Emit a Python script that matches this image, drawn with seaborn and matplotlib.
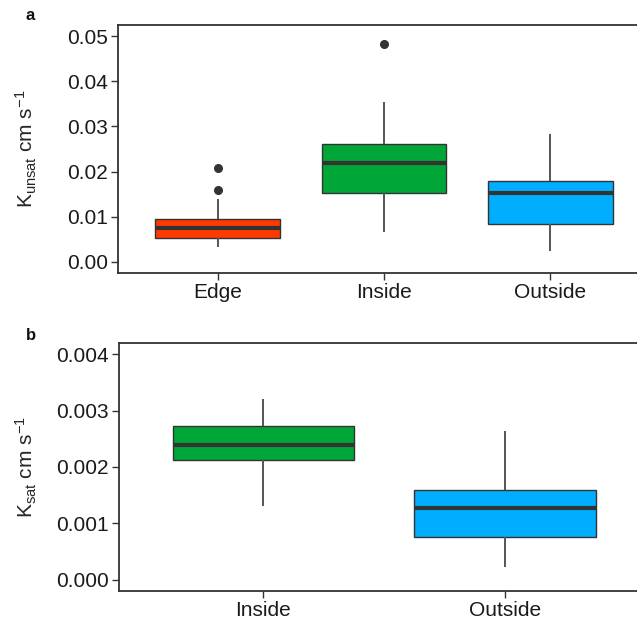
import matplotlib
matplotlib.use("Agg")
import matplotlib.pyplot as plt
import seaborn as sns
import pandas as pd

# ---- data ----
sites_a = ["Edge", "Inside", "Outside"]
edge_unsat = [0.0033, 0.0042, 0.0048, 0.0053, 0.0062, 0.0070, 0.0075,
              0.0082, 0.0090, 0.0095, 0.0140, 0.0160, 0.0208]
inside_unsat = [0.0065, 0.0120, 0.0153, 0.0185, 0.0218, 0.0240, 0.0262,
                0.0354, 0.0483]
outside_unsat = [0.0023, 0.0083, 0.0152, 0.0178, 0.0283]

sites_b = ["Inside", "Outside"]
inside_sat = [0.00130, 0.00213, 0.00239, 0.00273, 0.00320]
outside_sat = [0.00022, 0.00075, 0.00128, 0.00159, 0.00264]

yticks_a = [0.00, 0.01, 0.02, 0.03, 0.04, 0.05]
yticklabels_a = ["0.00", "0.01", "0.02", "0.03", "0.04", "0.05"]
yticks_b = [0.000, 0.001, 0.002, 0.003, 0.004]
yticklabels_b = ["0.000", "0.001", "0.002", "0.003", "0.004"]

colors = {"Edge": "#FF3A00", "Inside": "#00A637", "Outside": "#00AEFF"}

df_a = pd.DataFrame({
    "site": ["Edge"] * len(edge_unsat) + ["Inside"] * len(inside_unsat)
            + ["Outside"] * len(outside_unsat),
    "value": edge_unsat + inside_unsat + outside_unsat,
})
df_b = pd.DataFrame({
    "site": ["Inside"] * len(inside_sat) + ["Outside"] * len(outside_sat),
    "value": inside_sat + outside_sat,
})

sns.set_theme(style="white")
plt.rcParams["font.family"] = ["Liberation Sans", "DejaVu Sans"]
plt.rcParams["mathtext.fontset"] = "custom"
plt.rcParams["mathtext.rm"] = "Liberation Sans"
plt.rcParams["mathtext.it"] = "Liberation Sans:italic"
plt.rcParams["mathtext.bf"] = "Liberation Sans:bold"

W, H = 637, 621
fig = plt.figure(figsize=(W / 100, H / 100), dpi=100)

def px_axes(left, top, right, bottom):
    return fig.add_axes([left / W, 1 - bottom / H, (right - left) / W, (bottom - top) / H])

ax_a = px_axes(118, 25, 650, 273)
ax_b = px_axes(118.5, 343, 650, 591)

box_kw = dict(
    width=0.75, dodge=False, saturation=1, linecolor="#333333", linewidth=1.0,
    showcaps=False, whis=1.5, legend=False,
    medianprops=dict(color="#333333", linewidth=3),
    whiskerprops=dict(color="#555555", linewidth=1.4),
    boxprops=dict(edgecolor="#333333", linewidth=1.0),
    flierprops=dict(marker="o", markerfacecolor="#333333", markeredgecolor="#333333",
                    markersize=5.5),
)

sns.boxplot(data=df_a, x="site", y="value", hue="site", order=sites_a,
            hue_order=sites_a, palette=colors, ax=ax_a, **box_kw)
sns.boxplot(data=df_b, x="site", y="value", hue="site", order=sites_b,
            hue_order=sites_b, palette=colors, ax=ax_b, **box_kw)

ax_a.set_xlim(-0.6, 2.6)
ax_a.set_ylim(-0.0025, 0.0525)
ax_a.set_yticks(yticks_a)
ax_a.set_yticklabels(yticklabels_a)
ax_b.set_xlim(-0.6, 1.6)
ax_b.set_ylim(-0.0002, 0.0042)
ax_b.set_yticks(yticks_b)
ax_b.set_yticklabels(yticklabels_b)

ax_a.set_ylabel(r"K$_{\mathrm{unsat}}$ cm s$^{\mathrm{-1}}$", fontsize=15)
ax_b.set_ylabel(r"K$_{\mathrm{sat}}$ cm s$^{\mathrm{-1}}$", fontsize=15)
ax_a.yaxis.set_label_coords((39 - 118) / 532, 0.5)
ax_b.yaxis.set_label_coords((39 - 118.5) / 531.5, 0.5)

for ax in (ax_a, ax_b):
    ax.set_xlabel("")
    for s in ax.spines.values():
        s.set_visible(True)
        s.set_color("#333333")
        s.set_linewidth(1.3)
    ax.tick_params(axis="both", which="both", direction="out", length=5, width=1,
                   color="#333333", labelsize=15, labelcolor="#1a1a1a", pad=2,
                   left=True, bottom=True)
    ax.grid(False)
    ax.set_facecolor("white")

fig.text(26 / W, 1 - 20 / H, "a", fontsize=12, fontweight="bold", color="#111111")
fig.text(26 / W, 1 - 340 / H, "b", fontsize=12, fontweight="bold", color="#111111")

fig.savefig("out.png", dpi=100, facecolor="white")
